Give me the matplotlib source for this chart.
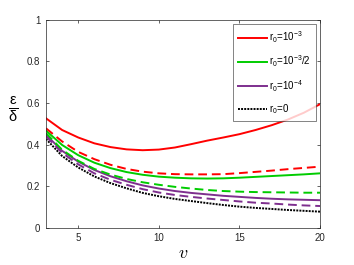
import numpy as np
import matplotlib
matplotlib.use("Agg")
import matplotlib.pyplot as plt

plt.rcParams['font.family'] = ['Liberation Sans', 'DejaVu Sans']
plt.rcParams['mathtext.default'] = 'regular'

v = [3, 4, 5, 6, 7, 8, 9, 10, 11, 12, 13, 14, 15, 16, 17, 18, 19, 20]

# solid curves
red_solid = [0.526, 0.470, 0.434, 0.406, 0.388, 0.377, 0.373, 0.376, 0.386, 0.402,
             0.419, 0.434, 0.450, 0.470, 0.493, 0.520, 0.553, 0.594]
green_solid = [0.467, 0.398, 0.349, 0.313, 0.287, 0.268, 0.255, 0.246, 0.241, 0.238,
               0.237, 0.238, 0.241, 0.245, 0.249, 0.253, 0.257, 0.262]
purple_solid = [0.447, 0.370, 0.318, 0.278, 0.248, 0.224, 0.204, 0.189, 0.177, 0.168,
                0.161, 0.154, 0.149, 0.144, 0.140, 0.137, 0.135, 0.133]
black_dot = [0.427, 0.345, 0.290, 0.247, 0.215, 0.190, 0.168, 0.152, 0.139, 0.129,
             0.119, 0.110, 0.102, 0.096, 0.091, 0.086, 0.082, 0.078]

# dashed curves
red_dash = [0.478, 0.415, 0.365, 0.330, 0.303, 0.283, 0.270, 0.262, 0.258, 0.257,
            0.257, 0.258, 0.263, 0.269, 0.275, 0.282, 0.288, 0.294]
green_dash = [0.455, 0.375, 0.322, 0.283, 0.256, 0.235, 0.219, 0.207, 0.197, 0.189,
              0.182, 0.177, 0.174, 0.172, 0.171, 0.170, 0.169, 0.169]
purple_dash = [0.440, 0.360, 0.305, 0.262, 0.231, 0.207, 0.186, 0.170, 0.158, 0.149,
               0.141, 0.134, 0.127, 0.121, 0.117, 0.112, 0.108, 0.105]

labels = ['r$_0$=10$^{-3}$', 'r$_0$=10$^{-3}$/2', 'r$_0$=10$^{-4}$', 'r$_0$=0']
red = '#ff0000'
green = '#00cc00'
purple = '#7e2f8e'
gray = '#262626'

fig = plt.figure(figsize=(3.54, 2.65), dpi=100)
ax = fig.add_axes([0.130, 0.140, 0.774, 0.786])

lw = 1.4
ax.plot(v, red_solid, color=red, lw=lw, label=labels[0])
ax.plot(v, green_solid, color=green, lw=lw, label=labels[1])
ax.plot(v, purple_solid, color=purple, lw=lw, label=labels[2])
ax.plot(v, black_dot, color='black', lw=lw, ls=(0, (1, 0.6)), label=labels[3])
ax.plot(v, red_dash, color=red, lw=lw, ls=(0, (4.5, 2.5)))
ax.plot(v, green_dash, color=green, lw=lw, ls=(0, (4.5, 2.5)))
ax.plot(v, purple_dash, color=purple, lw=lw, ls=(0, (4.5, 2.5)))

ax.set_xlim(3, 20)
ax.set_ylim(0, 1)
ax.set_xticks([5, 10, 15, 20])
ax.set_yticks([0, 0.2, 0.4, 0.6, 0.8, 1])
ax.set_yticklabels(['0', '0.2', '0.4', '0.6', '0.8', '1'])
ax.tick_params(direction='in', length=2.5, width=0.5, labelsize=7,
               colors=gray, top=True, right=True, pad=4)
for s in ax.spines.values():
    s.set_color(gray)
    s.set_linewidth(0.5)

ax.set_xlabel(r'$\mathit{v}$', fontsize=13, math_fontfamily='cm', labelpad=1)
ax.set_ylabel(r'$\frac{\varepsilon}{\delta}$', fontsize=15, rotation=0,
              math_fontfamily='dejavusans')
ax.yaxis.set_label_coords(-0.12, 0.5)

leg = ax.legend(loc='upper right', fontsize=7, frameon=True, fancybox=False,
                edgecolor=gray, handlelength=3.0, handletextpad=0.2,
                labelspacing=0.9, borderpad=0.5, borderaxespad=0,
                bbox_to_anchor=(0.985, 0.977))
leg.get_frame().set_linewidth(0.5)

fig.savefig('out.png', dpi=100)
